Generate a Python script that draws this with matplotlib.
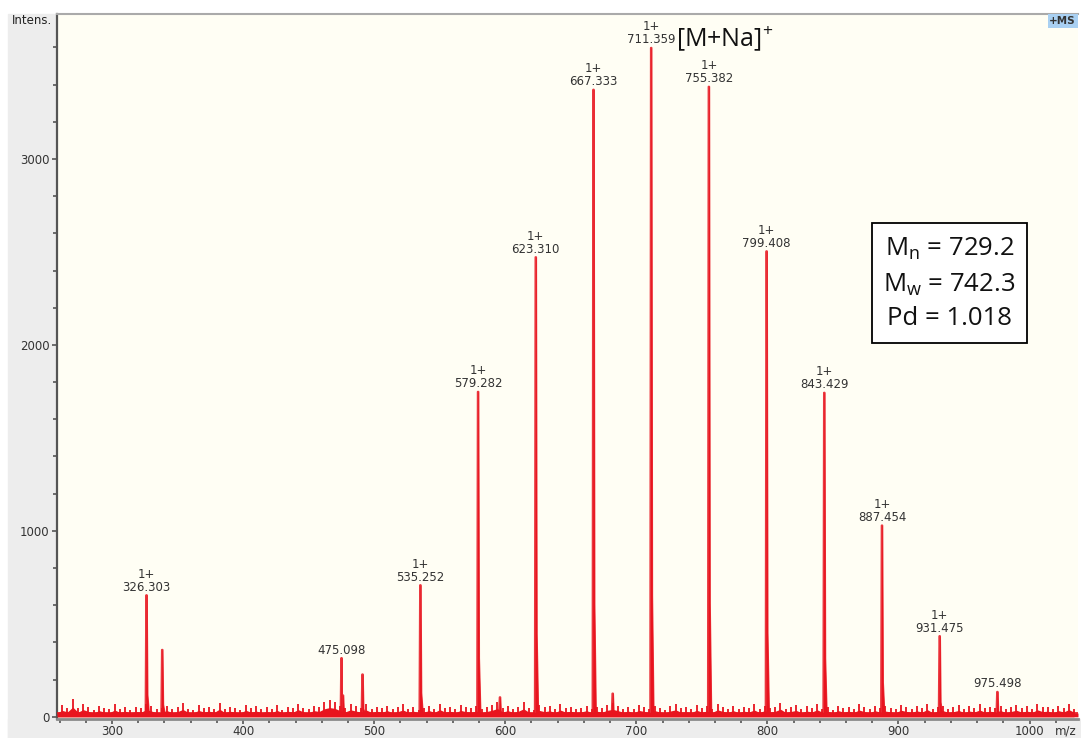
import matplotlib
matplotlib.use("Agg")
import matplotlib.pyplot as plt
from matplotlib.patches import Rectangle
import numpy as np

# ---------------- data ----------------
peak_mz = [326.303, 475.098, 535.252, 579.282, 623.310, 667.333, 711.359,
           755.382, 799.408, 843.429, 887.454, 931.475, 975.498]
peak_int = [654, 316, 708, 1748, 2472, 3373, 3598, 3389, 2504, 1743, 1029, 434, 134]
peak_charge = ["1+", "", "1+", "1+", "1+", "1+", "1+", "1+", "1+", "1+", "1+", "1+", ""]

minor_mz = [338.3, 476.2, 491.1, 596.0, 682.0]
minor_int = [360, 115, 228, 105, 125]

noise_start = 258
noise_step = 4
noise_int = [
    40, 62, 48, 95, 45, 70, 52, 38, 60, 46, 40, 66, 43, 55, 37, 52, 45, 68, 56, 40,
    46, 60, 40, 50, 72, 44, 39, 62, 47, 55, 43, 75, 41, 54, 46, 38, 64, 45, 56, 40,
    50, 43, 62, 39, 55, 45, 70, 47, 40, 60, 52, 78, 90, 82, 60, 48, 68, 56, 45, 66,
    42, 54, 46, 60, 40, 50, 66, 44, 55, 39, 47, 60, 43, 70, 46, 54, 41, 62, 50, 45,
    56, 40, 52, 64, 80, 46, 60, 43, 54, 78, 45, 39, 62, 50, 58, 41, 66, 46, 54, 44,
    47, 60, 42, 54, 46, 64, 72, 60, 44, 55, 40, 62, 52, 43, 60, 47, 39, 56, 68, 45,
    50, 41, 64, 46, 56, 43, 68, 52, 44, 60, 40, 55, 47, 66, 42, 60, 46, 54, 74, 43,
    52, 62, 41, 56, 47, 68, 44, 54, 39, 60, 46, 55, 43, 66, 50, 40, 60, 45, 56, 47,
    42, 64, 52, 44, 58, 46, 70, 40, 54, 60, 43, 50, 62, 41, 56, 47, 66, 45, 54, 46,
    60, 41, 52, 64, 45, 56, 43, 68, 50, 55, 40, 60, 47, 70, 44,
]

stats_lines = ["M$_\\mathregular{n}$ = 729.2", "M$_\\mathregular{w}$ = 742.3", "Pd = 1.018"]
ion_label = "[M+Na]$^\\mathregular{+}$"

x_major = [300, 400, 500, 600, 700, 800, 900, 1000]
y_major = [0, 1000, 2000, 3000]

# ---------------- build peak trace ----------------
RED = "#E8141E"
pts = [(258, 20), (1037, 20)]
for m, h in list(zip(peak_mz, peak_int)) + list(zip(minor_mz, minor_int)):
    pts += [(m - 0.7, 20), (m - 0.2, h), (m + 0.2, h), (m + 0.7, h * 0.18),
            (m + 1.8, 20)]
pts.sort()
tx = np.array([p[0] for p in pts])
ty = np.array([p[1] for p in pts])
nx = np.array([noise_start + i * noise_step for i in range(len(noise_int))])
ny = np.array(noise_int, dtype=float)

# ---------------- figure ----------------
W, H = 1081, 738
fig = plt.figure(figsize=(W / 100, H / 100), dpi=100, facecolor="white")

fig.patches.append(Rectangle((8 / W, 0), (57 - 8) / W, (H - 14) / H,
                             transform=fig.transFigure, color="#EDEDED", zorder=-5))
fig.patches.append(Rectangle((8 / W, 0), 1 - 8 / W, 19 / H,
                             transform=fig.transFigure, color="#EDEDED", zorder=-5))

ax = fig.add_axes([57 / W, 19 / H, (1078 - 57) / W, (719 - 14) / H])
ax.set_facecolor("#FFFEF4")
ax.set_xlim(258, 1037)
ax.set_ylim(-12, 3780)

# noise band + spikes
ax.fill_between(nx, 0, ny * 0.55, color=RED, linewidth=0, zorder=2)
ax.vlines(nx, 0, ny, color=RED, linewidth=1.3, zorder=2)
# peaks
ax.fill_between(tx, 0, ty, color=RED, linewidth=0, zorder=3)
ax.plot(tx, ty, color=RED, linewidth=1.5, zorder=3, alpha=0.85)

for m, h, c in zip(peak_mz, peak_int, peak_charge):
    txt = (c + "\n" if c else "") + f"{m:.3f}"
    ax.annotate(txt, (m, h), xytext=(0, 1), textcoords="offset points",
                ha="center", va="bottom", fontsize=8.5, color="#333333",
                linespacing=1.0, zorder=5)

ax.annotate(ion_label, (711.359, 3598), xytext=(18, -4), textcoords="offset points",
            ha="left", va="bottom", fontsize=18, color="#111111", family="Open Sans")

ax.text(0.874, 0.618, "\n".join(stats_lines), transform=ax.transAxes,
        ha="center", va="center", fontsize=18.5, family="Open Sans",
        linespacing=1.45, color="#111111", zorder=6,
        bbox=dict(boxstyle="square,pad=0.45", facecolor="white", edgecolor="black",
                  linewidth=1.3))

# axes styling
ax.spines["right"].set_visible(False)
ax.spines["top"].set_color("#AAAAAA")
ax.spines["top"].set_linewidth(1.5)
ax.spines["left"].set_color("#555555")
ax.spines["left"].set_linewidth(1.6)
ax.spines["bottom"].set_color("#8A8A8A")
ax.spines["bottom"].set_linewidth(2)

ax.set_xticks(x_major)
ax.set_xticks(np.arange(260, 1037, 20), minor=True)
ax.set_yticks(y_major)
ax.set_yticks(np.arange(0, 3780, 200), minor=True)
ax.tick_params(axis="both", which="major", direction="out", length=3.5, width=1.2,
               color="#555555", labelsize=8.5, labelcolor="#333333")
ax.tick_params(axis="both", which="minor", direction="out", length=3, width=1.2,
               color="#555555")
ax.tick_params(axis="x", pad=1)
ax.tick_params(axis="y", pad=2)

fig.text(12 / W, 1 - 20 / H, "Intens.", fontsize=8.5, color="#222222",
         ha="left", va="center")
fig.text(1076 / W, 1 - 21 / H, "+MS", fontsize=7.5, color="#333333", ha="right",
         va="center", fontweight="bold",
         bbox=dict(boxstyle="square,pad=0.15", facecolor="#A9D0F2", edgecolor="none"))
fig.text(1066 / W, 7 / H, "m/z", fontsize=8.5, color="#333333", ha="center",
         va="center")

fig.savefig("out.png", dpi=100, facecolor=fig.get_facecolor())
